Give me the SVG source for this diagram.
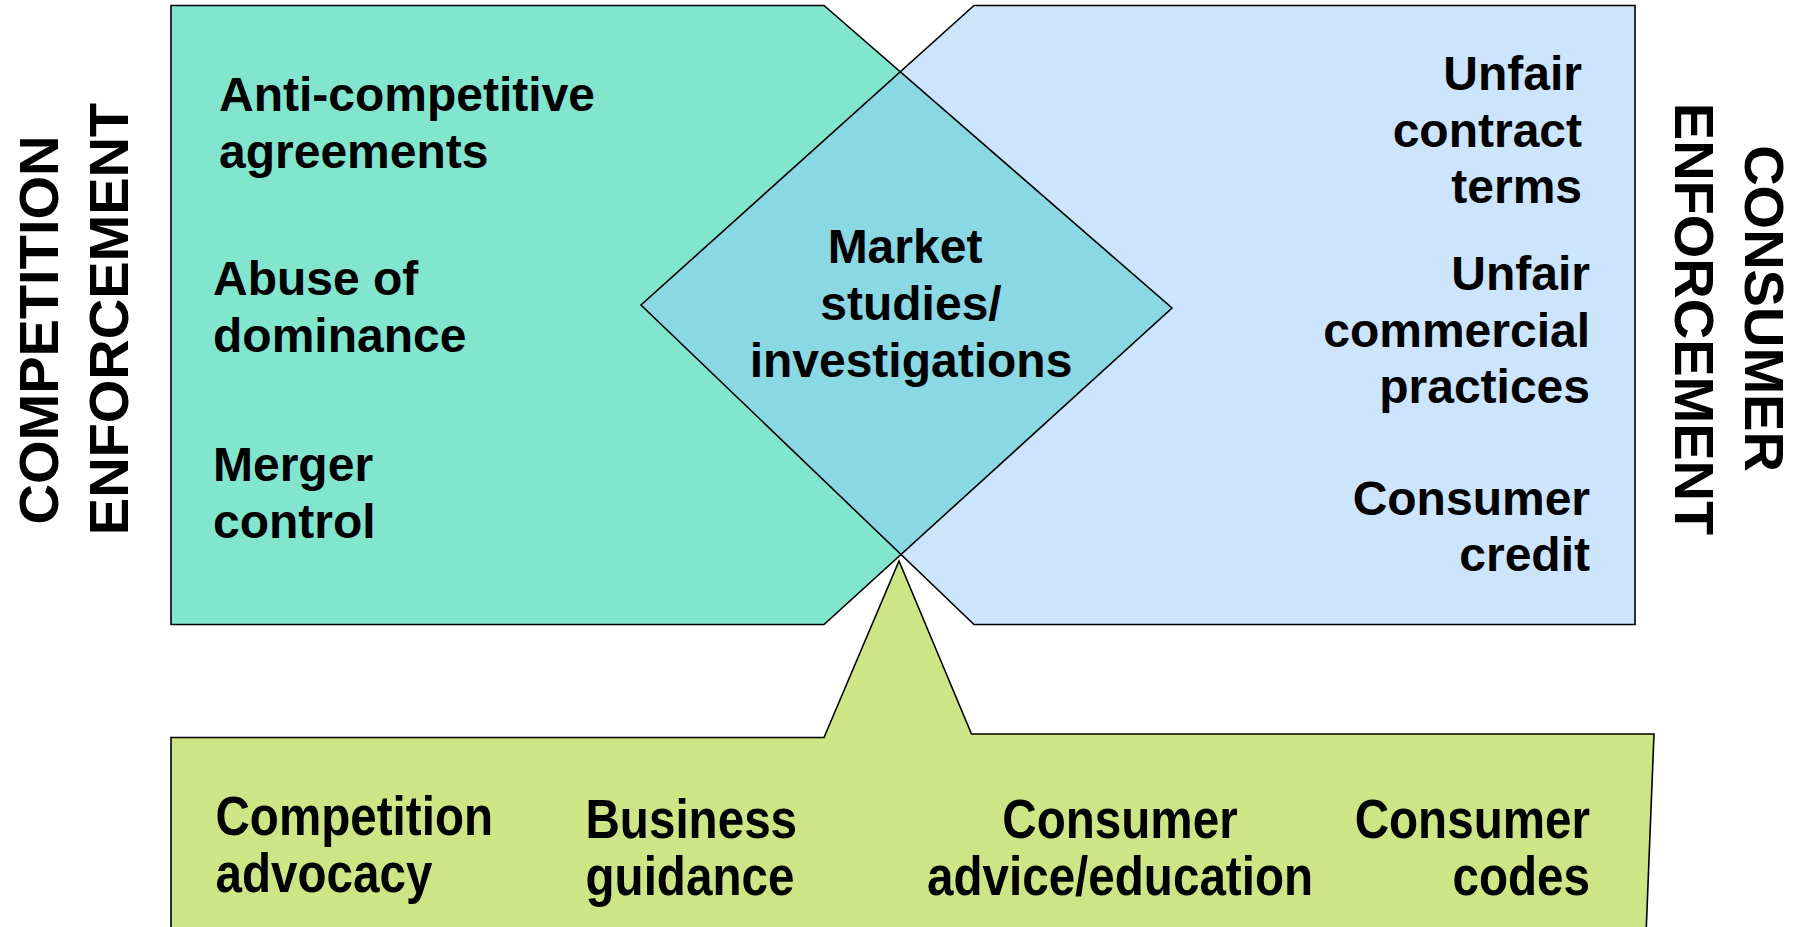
<svg xmlns="http://www.w3.org/2000/svg" width="1807" height="927" viewBox="0 0 1807 927">
  <style>
    .shape { stroke: #000; stroke-width: 1.6; stroke-linejoin: miter; }
    .edge { fill: none; stroke: #000; stroke-width: 1.6; }
    .t { font-family: "Liberation Sans", Arial, sans-serif; font-weight: bold; font-size: 48px; fill: #000; }
    .tn { font-family: "Liberation Sans", Arial, sans-serif; font-weight: bold; font-size: 56px; fill: #000; }
    .side { font-family: "Liberation Sans", Arial, sans-serif; font-weight: bold; font-size: 56px; fill: #000; text-anchor: middle; }
    .mid { text-anchor: middle; }
    .end { text-anchor: end; }
  </style>

  <rect width="1807" height="927" fill="#ffffff"/>

  <!-- Competition enforcement area -->
  <g id="competition-area">
    <polygon points="171,5.5 824,5.5 1172,308 824,624.5 171,624.5" fill="#82E6CF" stroke="none"/>
  </g>

  <!-- Consumer enforcement area -->
  <g id="consumer-area">
    <polygon points="974,5.5 1635,5.5 1635,624.5 974,624.5 641,305" fill="#CCE5FC" stroke="none"/>
  </g>

  <!-- Overlap: market studies -->
  <g id="market-studies">
    <polygon points="900.3,71.8 1172,308 901,554.5 641,305" fill="#8AD8E4" stroke="none"/>
  </g>

  <!-- Outlines of both areas, drawn over the overlap -->
  <g id="outlines">
    <polygon class="edge" points="171,5.5 824,5.5 1172,308 824,624.5 171,624.5"/>
    <polygon class="edge" points="974,5.5 1635,5.5 1635,624.5 974,624.5 641,305"/>
  </g>

  <!-- Advocacy / guidance callout -->
  <g id="outreach">
    <polygon class="shape" points="171,960 171,737.5 824,737.5 899,561 971.5,734 1654,734 1645,960" fill="#CEE586"/>
  </g>

  <!-- Competition tools -->
  <g id="competition-text">
    <text class="t" x="219" y="110.5">Anti-competitive</text>
    <text class="t" x="219" y="168">agreements</text>
    <text class="t" x="213" y="295">Abuse of</text>
    <text class="t" x="213" y="352">dominance</text>
    <text class="t" x="213" y="481">Merger</text>
    <text class="t" x="213" y="538">control</text>
  </g>

  <!-- Consumer tools -->
  <g id="consumer-text">
    <text class="t end" x="1582" y="90">Unfair</text>
    <text class="t end" x="1582" y="147">contract</text>
    <text class="t end" x="1582" y="203">terms</text>
    <text class="t end" x="1590" y="290">Unfair</text>
    <text class="t end" x="1590" y="347">commercial</text>
    <text class="t end" x="1590" y="403">practices</text>
    <text class="t end" x="1590" y="515">Consumer</text>
    <text class="t end" x="1590" y="571">credit</text>
  </g>

  <!-- Shared tool -->
  <g id="market-text">
    <text class="t mid" x="905" y="263">Market</text>
    <text class="t mid" x="911" y="320">studies/</text>
    <text class="t mid" x="911" y="377">investigations</text>
  </g>

  <!-- Outreach tools (condensed lettering) -->
  <g id="outreach-text">
    <text class="tn" transform="translate(215.5,835) scale(0.85,1)">Competition</text>
    <text class="tn" transform="translate(215.5,892) scale(0.85,1)">advocacy</text>
    <text class="tn" transform="translate(585.5,838) scale(0.85,1)">Business</text>
    <text class="tn" transform="translate(585.5,895) scale(0.85,1)">guidance</text>
    <text class="tn mid" transform="translate(1120,838) scale(0.85,1)">Consumer</text>
    <text class="tn mid" transform="translate(1120,895) scale(0.85,1)">advice/education</text>
    <text class="tn end" transform="translate(1590,838) scale(0.85,1)">Consumer</text>
    <text class="tn end" transform="translate(1590,895) scale(0.85,1)">codes</text>
  </g>

  <!-- Side headings -->
  <g id="heading-competition">
    <text class="side" transform="translate(58,330) rotate(-90)">COMPETITION</text>
    <text class="side" transform="translate(128,319) rotate(-90)">ENFORCEMENT</text>
  </g>
  <g id="heading-consumer">
    <text class="side" transform="translate(1745,308.5) rotate(90)">CONSUMER</text>
    <text class="side" transform="translate(1675,319) rotate(90)">ENFORCEMENT</text>
  </g>
</svg>
